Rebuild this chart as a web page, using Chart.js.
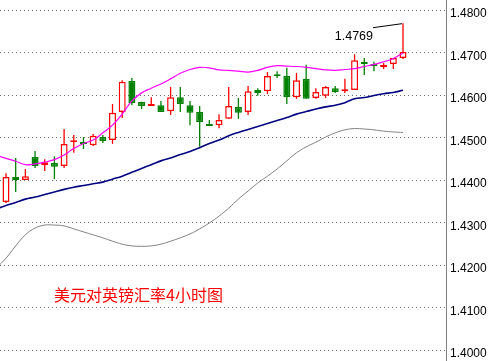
<!DOCTYPE html>
<html><head><meta charset="utf-8">
<script src="https://cdn.jsdelivr.net/npm/chart.js@4.4.1/dist/chart.umd.min.js"></script>
<style>html,body{margin:0;padding:0;background:#fff;overflow:hidden}#wrap{position:relative;width:491px;height:361px}</style>
</head><body><div id="wrap"><canvas id="c"></canvas></div>
<script>
const chartTitle = '美元对英镑汇率4小时图';
const highLabel = '1.4769';
const yTickLabels = ['1.4000','1.4100','1.4200','1.4300','1.4400','1.4500','1.4600','1.4700','1.4800'];

const openPrices  = [1.4348,1.4407,1.4400,1.4454,1.4435,1.4440,1.4433,1.4489,1.4489,1.4482,1.4501,1.4494,1.4560,1.4633,1.4584,1.4574,1.4576,1.4562,1.4595,1.4576,1.4560,1.4532,1.4529,1.4544,1.4572,1.4560,1.4612,1.4609,1.4645,1.4645,1.4595,1.4638,1.4593,1.4598,1.4616,1.4609,1.4612,1.4678,1.4673,1.4666,1.4673,1.4687];
const highPrices  = [1.4416,1.4452,1.4426,1.4468,1.4449,1.4456,1.4520,1.4506,1.4501,1.4508,1.4506,1.4579,1.4635,1.4640,1.4584,1.4595,1.4586,1.4619,1.4619,1.4586,1.4574,1.4541,1.4555,1.4619,1.4593,1.4621,1.4616,1.4654,1.4656,1.4664,1.4652,1.4671,1.4616,1.4621,1.4621,1.4638,1.4696,1.4687,1.4678,1.4675,1.4687,1.4769];
const lowPrices   = [1.4346,1.4372,1.4400,1.4428,1.4421,1.4402,1.4428,1.4464,1.4473,1.4480,1.4487,1.4485,1.4546,1.4576,1.4567,1.4574,1.4560,1.4553,1.4560,1.4529,1.4478,1.4527,1.4522,1.4544,1.4544,1.4553,1.4598,1.4602,1.4640,1.4579,1.4591,1.4591,1.4591,1.4593,1.4605,1.4605,1.4612,1.4647,1.4656,1.4661,1.4661,1.4685];
const closePrices = [1.4407,1.4400,1.4409,1.4433,1.4442,1.4431,1.4485,1.4489,1.4485,1.4504,1.4492,1.4558,1.4631,1.4581,1.4574,1.4574,1.4560,1.4595,1.4579,1.4558,1.4536,1.4527,1.4541,1.4574,1.4558,1.4609,1.4605,1.4645,1.4644,1.4595,1.4635,1.4591,1.4607,1.4619,1.4607,1.4609,1.4682,1.4673,1.4668,1.4666,1.4687,1.4701];

// band values: first entry belongs to the bar just before the first visible candle
const bandUpper  = [1.4458,1.4451,1.4444,1.4436,1.4438,1.4442,1.4448,1.4459,1.4474,1.4486,1.4494,1.4511,1.4529,1.4555,1.4586,1.4605,1.4616,1.4626,1.4638,1.4651,1.4660,1.4665,1.4664,1.4659,1.4658,1.4656,1.4654,1.4658,1.4665,1.4669,1.4668,1.4667,1.4665,1.4662,1.4659,1.4658,1.4660,1.4662,1.4667,1.4672,1.4678,1.4686,1.4699];
const bandMiddle = [1.4332,1.4340,1.4347,1.4355,1.4360,1.4366,1.4372,1.4378,1.4383,1.4387,1.4391,1.4395,1.4402,1.4409,1.4418,1.4427,1.4436,1.4445,1.4452,1.4460,1.4467,1.4476,1.4486,1.4494,1.4504,1.4512,1.4519,1.4526,1.4533,1.4540,1.4547,1.4555,1.4561,1.4567,1.4572,1.4576,1.4582,1.4591,1.4594,1.4599,1.4603,1.4606,1.4611];
const bandLower  = [1.4193,1.4216,1.4245,1.4271,1.4287,1.4294,1.4294,1.4292,1.4285,1.4278,1.4271,1.4264,1.4256,1.4249,1.4245,1.4244,1.4245,1.4249,1.4256,1.4264,1.4273,1.4285,1.4299,1.4315,1.4334,1.4355,1.4374,1.4393,1.4409,1.4426,1.4445,1.4464,1.4478,1.4489,1.4501,1.4511,1.4518,1.4521,1.4520,1.4518,1.4515,1.4513,1.4512];

const RED = '#ff0000', GREEN = '#008000';
const idx = openPrices.map((_, i) => i);
const isUp = i => closePrices[i] >= openPrices[i];
const band = arr => arr.map((v, i) => ({x: i - 1, y: v}));

const overlay = {
  id: 'overlay',
  afterDatasetsDraw(chart) {
    const {ctx, scales: {x, y}} = chart;
    const last = highPrices.length - 1;
    const px = x.getPixelForValue(last), py = y.getPixelForValue(highPrices[last]);
    ctx.save();
    ctx.strokeStyle = '#000'; ctx.lineWidth = 1;
    ctx.beginPath(); ctx.moveTo(px - 30, py + 4.5); ctx.lineTo(px - 1, py + 0.5); ctx.stroke();
    ctx.font = '12.5px "Liberation Sans", Arial, sans-serif';
    ctx.fillStyle = '#000'; ctx.textAlign = 'right'; ctx.textBaseline = 'middle';
    ctx.fillText(highLabel, px - 30, py + 13);
    ctx.font = '16px "Noto Sans CJK SC", sans-serif';
    ctx.fillStyle = RED; ctx.textAlign = 'left';
    ctx.fillText(chartTitle, 54, 295);
    ctx.restore();
  }
};

new Chart(document.getElementById('c'), {
  type: 'bar',
  data: {
    datasets: [
      {type: 'line', data: band(bandUpper), borderColor: '#ff00ff', borderWidth: 1.2, pointRadius: 0, tension: 0.4, fill: false},
      {type: 'line', data: band(bandMiddle), borderColor: '#000080', borderWidth: 1.6, pointRadius: 0, tension: 0.4, fill: false},
      {type: 'line', data: band(bandLower), borderColor: '#808080', borderWidth: 1, pointRadius: 0, tension: 0.4, fill: false},
      {type: 'bar', data: idx.map(i => ({x: i, y: [openPrices[i], closePrices[i]]})),
        backgroundColor: idx.map(i => isUp(i) ? '#ffffff' : GREEN),
        borderColor: idx.map(i => isUp(i) ? RED : GREEN),
        borderWidth: 1.5, borderSkipped: false, barThickness: 7, minBarLength: 2, grouped: false, inflateAmount: 0},
      {type: 'bar', data: idx.map(i => ({x: i, y: [lowPrices[i], highPrices[i]]})),
        backgroundColor: idx.map(i => isUp(i) ? RED : GREEN),
        borderWidth: 0, barThickness: 1.3, grouped: false, inflateAmount: 0}
    ]
  },
  options: {
    responsive: true, maintainAspectRatio: false, animation: false, events: [],
    layout: {padding: 0},
    plugins: {legend: {display: false}, tooltip: {enabled: false}},
    scales: {
      x: {type: 'linear', display: false, min: -0.62, max: 45.44, offset: false},
      y: {type: 'linear', position: 'right', min: 1.397412, max: 1.482353,
        afterBuildTicks: s => { s.ticks = yTickLabels.map(t => ({value: parseFloat(t)})); },
        afterFit: s => { s.width = 45; s.paddingTop = 0; s.paddingBottom = 0; },
        grid: {color: '#6a6a6a', lineWidth: 1, drawTicks: false},
        border: {display: true, color: '#808080', width: 1, dash: [1, 3]},
        ticks: {padding: 4, labelOffset: 4, color: '#000',
          font: {family: '"Liberation Sans", Arial, sans-serif', size: 12},
          callback: v => yTickLabels.find(t => Math.abs(parseFloat(t) - v) < 1e-6) || ''}
      }
    }
  },
  plugins: [overlay]
});
</script></body></html>
